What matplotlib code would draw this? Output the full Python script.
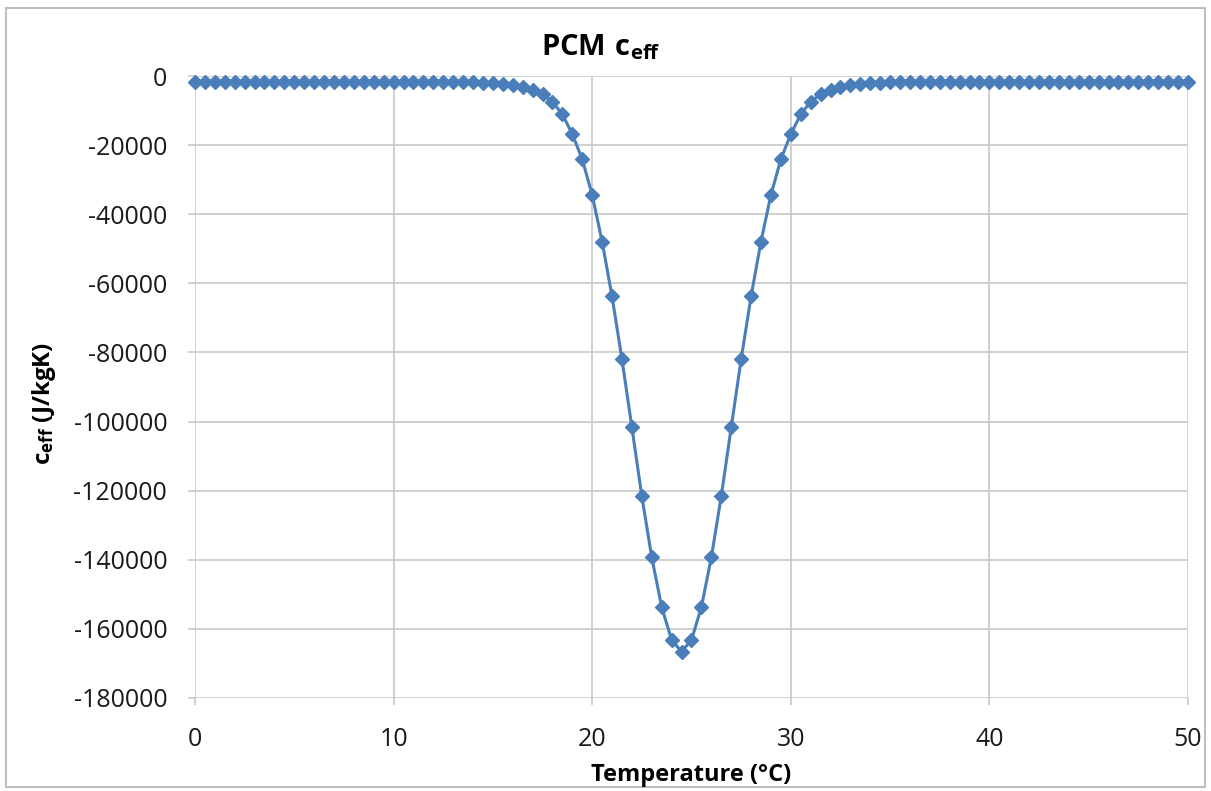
import numpy as np
import matplotlib
matplotlib.use("Agg")
import matplotlib.pyplot as plt
from matplotlib.patches import Rectangle

plt.rcParams['font.family'] = ['Open Sans', 'DejaVu Sans']
plt.rcParams['mathtext.fontset'] = 'custom'
plt.rcParams['mathtext.rm'] = 'Open Sans'
plt.rcParams['mathtext.bf'] = 'Open Sans:bold'
plt.rcParams['axes.unicode_minus'] = False

# Temperature grid (degC), 0.5 K steps
temperature = np.arange(0, 50.5, 0.5)

# effective heat capacity (J/kgK)
c_eff = [
    -1800, -1800, -1800, -1800, -1800, -1800, -1800, -1800, -1800, -1800,   # 0 - 4.5
    -1800, -1800, -1800, -1800, -1800, -1800, -1800, -1800, -1800, -1800,   # 5 - 9.5
    -1800, -1800, -1800, -1800, -1800, -1800, -1800, -1800, -1800, -1900,   # 10 - 14.5
    -2000, -2200, -2600, -3100, -4000, -5300, -7400, -11100, -16800, -24100,  # 15 - 19.5
    -34400, -47900, -63800, -82000, -101700, -121600, -139300, -153700, -163200, -166600,  # 20 - 24.5
    -163200, -153700, -139300, -121600, -101700, -82000, -63800, -47900, -34400, -24100,  # 25 - 29.5
    -16800, -11100, -7400, -5300, -4000, -3100, -2600, -2200, -2000, -1900,   # 30 - 34.5
    -1800, -1800, -1800, -1800, -1800, -1800, -1800, -1800, -1800, -1800,   # 35 - 39.5
    -1800, -1800, -1800, -1800, -1800, -1800, -1800, -1800, -1800, -1800,   # 40 - 44.5
    -1800, -1800, -1800, -1800, -1800, -1800, -1800,                        # 45 - 48
    -1800, -1800, -1800, -1800,                                             # 48.5 - 50
]

x_ticks = [0, 10, 20, 30, 40, 50]
y_ticks = list(range(-180000, 1, 20000))

fig = plt.figure(figsize=(12.11, 7.91), dpi=100)
ax = fig.add_axes([0.161, 0.1176, 0.820, 0.7863])

ax.plot(temperature, c_eff, color='#4A7EBB', linewidth=2.2,
        marker='D', markersize=7.5, markerfacecolor='#4A7EBB',
        markeredgecolor='#4A7EBB', zorder=3, clip_on=False)

ax.set_xlim(0, 50)
ax.set_ylim(-180000, 0)
ax.set_xticks(x_ticks)
ax.set_yticks(y_ticks)
ax.grid(True, color='#C8C8C8', linewidth=1.2)
ax.set_axisbelow(True)
for s in ax.spines.values():
    s.set_visible(False)
ax.tick_params(length=5, width=1.2, color='#C8C8C8', labelsize=18, labelcolor='#1a1a1a')
ax.tick_params(axis='x', pad=16)
ax.tick_params(axis='y', pad=15)

# axis titles and chart title placed in figure coords
fig.text(691 / 1211, 1 - 775 / 791, 'Temperature (°C)', ha='center', va='center',
         fontsize=17, fontweight='bold')
fig.text(44 / 1211, 1 - 403 / 791, r'$\mathbf{c_{eff}}$ (J/kgK)', ha='center', va='center',
         rotation=90, fontsize=17.5, fontweight='bold')
fig.text(0.496, 0.94, r'$\mathbf{PCM\ c_{eff}}$', ha='center', va='center', fontsize=21)

# outer chart border
fig.patches.append(Rectangle((0.005, 0.005), 0.99, 0.985, transform=fig.transFigure,
                             fill=False, edgecolor='#BFBFBF', linewidth=1.5))

fig.savefig('out.png', dpi=100, facecolor='white')
